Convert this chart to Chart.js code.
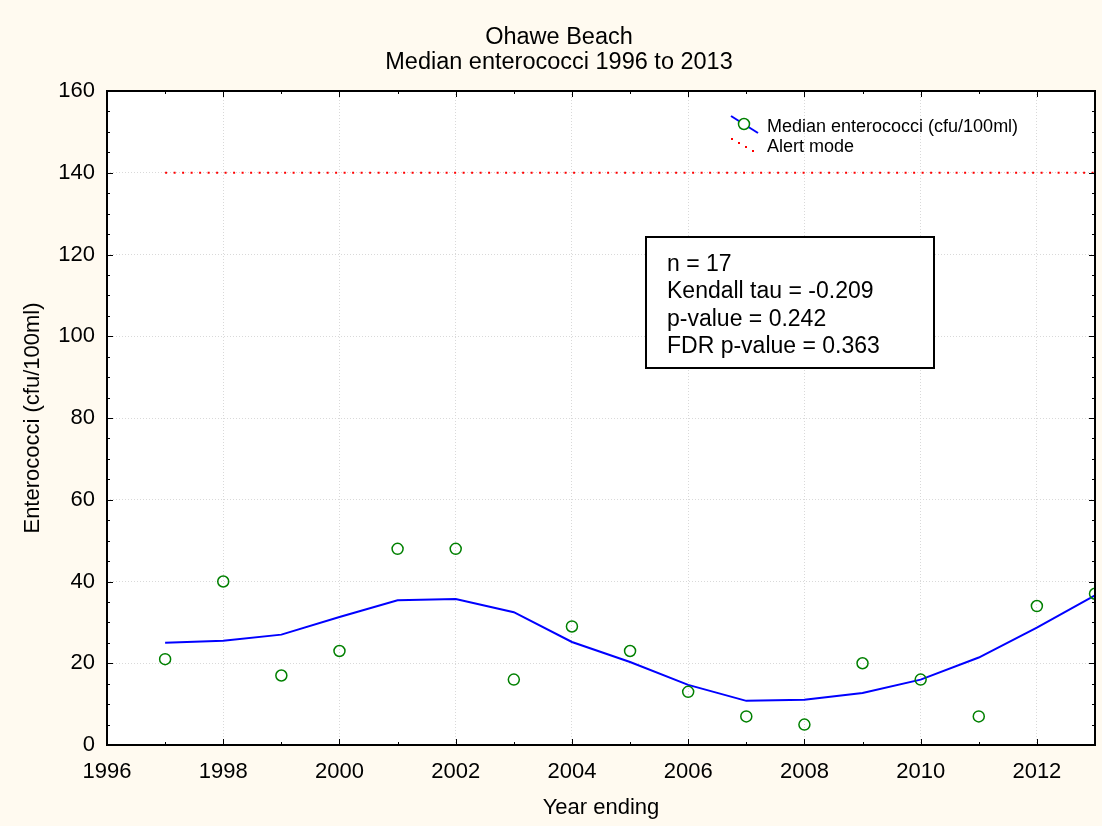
<!DOCTYPE html>
<html>
<head>
<meta charset="utf-8">
<title>Ohawe Beach</title>
<script src="https://cdn.jsdelivr.net/npm/chart.js@4"></script>
<style>
  body { margin: 0; background: #fffaf0; }
  #wrap { width: 1102px; height: 826px; position: relative; }
</style>
</head>
<body>
<div id="wrap"><canvas id="trend"></canvas></div>
<script>
// data
var years = [1997, 1998, 1999, 2000, 2001, 2002, 2003, 2004, 2005, 2006, 2007, 2008, 2009, 2010, 2011, 2012, 2013];
var median_values = [21, 40, 17, 23, 48, 48, 16, 29, 23, 13, 7, 5, 20, 16, 7, 34, 37];
var smooth_values = [25.0, 25.5, 27.0, 31.3, 35.4, 35.7, 32.5, 25.2, 20.3, 14.7, 10.8, 11.1, 12.7, 16.0, 21.4, 28.7, 36.6];
var alert_years = [1997, 2013];
var alert_values = [140, 140];
var x_ticks = [1996, 1998, 2000, 2002, 2004, 2006, 2008, 2010, 2012];
var y_ticks = [0, 20, 40, 60, 80, 100, 120, 140, 160];
var title_lines = ["Ohawe Beach", "Median enterococci 1996 to 2013"];
var stats_lines = ["n = 17", "Kendall tau = -0.209", "p-value = 0.242", "FDR p-value = 0.363"];

var font_family = "'Liberation Sans', Arial, sans-serif";

function to_points(xs, ys) {
  var out = [];
  for (var i = 0; i < xs.length; i++) out.push({x: xs[i], y: ys[i]});
  return out;
}

// background, title, frame, inward ticks, legend and stats box
var decor = {
  id: "decor",
  beforeDraw: function (chart) {
    var ctx = chart.ctx, ca = chart.chartArea;
    ctx.save();
    ctx.fillStyle = "#fffaf0";
    ctx.fillRect(0, 0, chart.width, chart.height);
    ctx.fillStyle = "#ffffff";
    ctx.fillRect(ca.left, ca.top, ca.right - ca.left, ca.bottom - ca.top);

    ctx.fillStyle = "#000";
    ctx.font = "23.5px " + font_family;
    ctx.textAlign = "center";
    ctx.textBaseline = "middle";
    for (var t = 0; t < title_lines.length; t++) {
      ctx.fillText(title_lines[t], 559, 38 + t * 25);
    }
    ctx.restore();
  },
  afterDatasetsDraw: function (chart) {
    var ctx = chart.ctx, ca = chart.chartArea;
    var xs = chart.scales.x, ys = chart.scales.y;
    ctx.save();
    ctx.strokeStyle = "#000";
    ctx.lineWidth = 1;
    ctx.beginPath();
    for (var yr = 1996; yr <= 2013; yr++) {
      var px = Math.round(xs.getPixelForValue(yr)) + 0.5;
      var len = (yr % 2 === 0) ? 6 : 3;
      ctx.moveTo(px, ca.bottom); ctx.lineTo(px, ca.bottom - len);
      ctx.moveTo(px, ca.top); ctx.lineTo(px, ca.top + len);
    }
    for (var v = 0; v <= 160; v += 5) {
      var py = Math.round(ys.getPixelForValue(v)) + 0.5;
      var l2 = (v % 20 === 0) ? 6 : 3;
      ctx.moveTo(ca.left, py); ctx.lineTo(ca.left + l2, py);
      ctx.moveTo(ca.right, py); ctx.lineTo(ca.right - l2, py);
    }
    ctx.stroke();

    ctx.lineWidth = 2;
    ctx.strokeRect(ca.left, ca.top, ca.right - ca.left, ca.bottom - ca.top);

    // legend
    var lx = ca.left + 624, ly = ca.top + 25;
    var ds = chart.data.datasets;
    ctx.lineWidth = 2;
    ctx.strokeStyle = ds[1].borderColor;
    ctx.beginPath(); ctx.moveTo(lx, ly); ctx.lineTo(lx + 27, ly + 17); ctx.stroke();
    ctx.fillStyle = "#fff";
    ctx.strokeStyle = ds[0].pointBorderColor;
    ctx.lineWidth = 1.5;
    ctx.beginPath(); ctx.arc(lx + 13, ly + 8, 5.5, 0, Math.PI * 2); ctx.fill(); ctx.stroke();
    ctx.fillStyle = ds[2].borderColor;
    for (var k = 0; k < 4; k++) {
      ctx.fillRect(lx + k * 7, ly + 22 + k * 4, 2, 2);
    }
    ctx.fillStyle = "#000";
    ctx.font = "18px " + font_family;
    ctx.textBaseline = "middle";
    ctx.textAlign = "left";
    ctx.fillText(ds[0].label, lx + 36, ly + 11);
    ctx.fillText(ds[2].label, lx + 36, ly + 31);

    // stats box
    var bx = ca.left + 539, by = ca.top + 146, bw = 288, bh = 131;
    ctx.fillStyle = "#fff";
    ctx.fillRect(bx, by, bw, bh);
    ctx.strokeStyle = "#000";
    ctx.lineWidth = 2;
    ctx.strokeRect(bx, by, bw, bh);
    ctx.fillStyle = "#000";
    ctx.font = "23px " + font_family;
    for (var s = 0; s < stats_lines.length; s++) {
      ctx.fillText(stats_lines[s], bx + 21, by + 27.5 + s * 27.5);
    }
    ctx.restore();
  }
};

var ctx = document.getElementById("trend").getContext("2d");

var chart = new Chart(ctx, {
  type: "scatter",
  data: {
    datasets: [{
      label: "Median enterococci (cfu/100ml)",
      data: to_points(years, median_values),
      showLine: false,
      pointRadius: 5.5,
      pointBorderWidth: 1.5,
      pointBorderColor: "#008000",
      pointBackgroundColor: "rgba(0,0,0,0)",
      order: 1
    }, {
      label: "Smooth",
      data: to_points(years, smooth_values),
      showLine: true,
      borderColor: "#0000ff",
      borderWidth: 2,
      pointRadius: 0,
      tension: 0,
      order: 2
    }, {
      label: "Alert mode",
      data: to_points(alert_years, alert_values),
      showLine: true,
      borderColor: "#ff0000",
      borderWidth: 2,
      borderDash: [2, 6.5],
      pointRadius: 0,
      order: 3
    }]
  },
  options: {
    responsive: true,
    maintainAspectRatio: false,
    animation: false,
    layout: { padding: { left: 0, right: 5, top: 91, bottom: 0 } },
    plugins: {
      legend: { display: false },
      tooltip: { enabled: false },
      title: { display: false }
    },
    scales: {
      x: {
        type: "linear",
        min: 1996,
        max: 2013,
        afterBuildTicks: function (scale) {
          scale.ticks = x_ticks.map(function (v) { return {value: v}; });
        },
        afterFit: function (scale) { scale.height = 81; },
        ticks: {
          color: "#000",
          font: { family: font_family, size: 22 },
          padding: 14,
          maxRotation: 0,
          callback: function (v) { return String(v); }
        },
        grid: { color: "#d9d9d9", drawTicks: false },
        border: { display: false, dash: [1, 2] },
        title: {
          display: true,
          text: "Year ending",
          color: "#000",
          font: { family: font_family, size: 22 },
          padding: { top: 0, bottom: 5 }
        }
      },
      y: {
        min: 0,
        max: 160,
        afterBuildTicks: function (scale) {
          scale.ticks = y_ticks.map(function (v) { return {value: v}; });
        },
        afterFit: function (scale) { scale.width = 107; },
        ticks: {
          color: "#000",
          font: { family: font_family, size: 22 },
          padding: 12
        },
        grid: { color: "#d9d9d9", drawTicks: false },
        border: { display: false, dash: [1, 2] },
        title: {
          display: true,
          text: "Enterococci (cfu/100ml)",
          color: "#000",
          font: { family: font_family, size: 22 },
          padding: { top: 20, bottom: 0 }
        }
      }
    }
  },
  plugins: [decor]
});
</script>
</body>
</html>
